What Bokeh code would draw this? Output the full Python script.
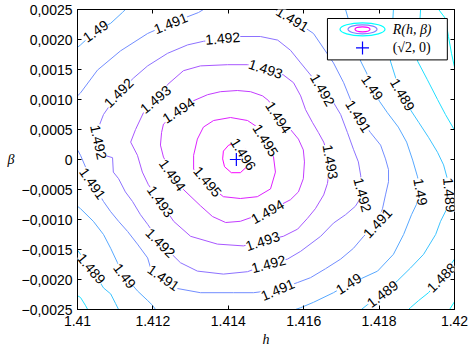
from bokeh.plotting import figure
from bokeh.models import ColumnDataSource, Range1d, FixedTicker, LinearAxis, LabelSet
from bokeh.core.properties import value
from bokeh.embed import file_html
from bokeh.resources import INLINE

# ---- contour levels and data range (MATLAB 'cool' colormap) ----
levels = [1.487, 1.488, 1.489, 1.490, 1.491, 1.492, 1.493, 1.494, 1.495, 1.496]
r_min, r_max = 1.4868, 1.4962

# ---- contour lines (h, beta) ----
c1496_h = [1.41419, 1.41401, 1.41387, 1.41385, 1.41390, 1.41408, 1.41432, 1.41451, 1.41451, 1.41435, 1.41419]
c1496_b = [0.00027, 0.00024, 0.00014, 0.00001, -0.00012, -0.00022, -0.00022, -0.00011, 0.00012, 0.00026, 0.00027]

c1495_h = [1.41406, 1.41451, 1.41477, 1.41499, 1.41520, 1.41525, 1.41512, 1.41477, 1.41432, 1.41387, 1.41371,
           1.41334, 1.41308, 1.41308, 1.41318, 1.41334, 1.41361, 1.41406]
c1495_b = [0.00070, 0.00065, 0.00054, 0.00029, 0.00004, -0.00021, -0.00049, -0.00062, -0.00065, -0.00062, -0.00054,
           -0.00037, -0.00016, 0.00007, 0.00034, 0.00054, 0.00065, 0.00070]

c1494_h = [1.41308, 1.41345, 1.41379, 1.41424, 1.41459, 1.41491, 1.41507, 1.41533, 1.41565, 1.41586, 1.41599, 1.41602,
           1.41599, 1.41586, 1.41565, 1.41504, 1.41432, 1.41393, 1.41358, 1.41326, 1.41281, 1.41252, 1.41228, 1.41220,
           1.41223, 1.41228, 1.41268, 1.41308]
c1494_b = [0.00098, 0.00108, 0.00113, 0.00115, 0.00113, 0.00106, 0.00098, 0.00070, 0.00050, 0.00034, 0.00016, -0.00004,
           -0.00032, -0.00054, -0.00067, -0.00087, -0.00103, -0.00105, -0.00095, -0.00077, -0.00050, -0.00024, 0.00004,
           0.00024, 0.00045, 0.00059, 0.00082, 0.00098]

c1493_h = [1.41239, 1.41281, 1.41326, 1.41398, 1.41451, 1.41499, 1.41546, 1.41573, 1.41592, 1.41605, 1.41623, 1.41639,
           1.41653, 1.41671, 1.41663, 1.41653, 1.41631, 1.41610, 1.41584, 1.41546, 1.41491, 1.41440, 1.41371, 1.41300,
           1.41255, 1.41220, 1.41188, 1.41172, 1.41159, 1.41141, 1.41154, 1.41175, 1.41207, 1.41239]
c1493_b = [0.00125, 0.00148, 0.00156, 0.00158, 0.00158, 0.00151, 0.00141, 0.00128, 0.00106, 0.00083, 0.00062, 0.00045,
           0.00029, -0.00004, -0.00040, -0.00059, -0.00082, -0.00098, -0.00116, -0.00128, -0.00136, -0.00144, -0.00141,
           -0.00128, -0.00103, -0.00070, -0.00042, -0.00021, 0.00007, 0.00029, 0.00050, 0.00078, 0.00100, 0.00125]

c1492_h = [1.41149, 1.41186, 1.41239, 1.41292, 1.41334, 1.41385, 1.41432, 1.41485, 1.41531, 1.41565, 1.41592, 1.41618,
           1.41650, 1.41679, 1.41698, 1.41716, 1.41732, 1.41745, 1.41751, 1.41756, 1.41737, 1.41711, 1.41679, 1.41645,
           1.41592, 1.41557, 1.41507, 1.41451, 1.41387, 1.41318, 1.41273, 1.41220, 1.41186, 1.41167, 1.41146, 1.41127,
           1.41109, 1.41095, 1.41093, 1.41072, 1.41056, 1.41056, 1.41069, 1.41109, 1.41149]
c1492_b = [0.00136, 0.00156, 0.00177, 0.00191, 0.00197, 0.00202, 0.00205, 0.00205, 0.00199, 0.00182, 0.00161, 0.00141,
           0.00116, 0.00095, 0.00075, 0.00045, 0.00017, -0.00004, -0.00026, -0.00059, -0.00078, -0.00092, -0.00106,
           -0.00128, -0.00153, -0.00166, -0.00174, -0.00187, -0.00191, -0.00186, -0.00172, -0.00139, -0.00108, -0.00092,
           -0.00070, -0.00054, -0.00032, -0.00021, 0.00003, 0.00007, 0.00029, 0.00054, 0.00075, 0.00111, 0.00136]

c1491a_h = [1.41000, 1.41008, 1.41053, 1.41114, 1.41186, 1.41247, 1.41321, 1.41334]
c1491a_b = [0.00106, 0.00111, 0.00149, 0.00181, 0.00210, 0.00227, 0.00245, 0.00250]
c1491b_h = [1.41525, 1.41570, 1.41626, 1.41679, 1.41706, 1.41724, 1.41745, 1.41777, 1.41804, 1.41817, 1.41825, 1.41825,
            1.41817, 1.41809, 1.41796, 1.41759, 1.41732, 1.41698, 1.41658, 1.41618, 1.41584, 1.41531, 1.41467, 1.41414,
            1.41326, 1.41265, 1.41228, 1.41194, 1.41186, 1.41159, 1.41133, 1.41109, 1.41088, 1.41069, 1.41040, 1.41008,
            1.41000]
c1491b_b = [0.00250, 0.00234, 0.00210, 0.00161, 0.00128, 0.00100, 0.00072, 0.00045, 0.00024, 0.00001, -0.00017, -0.00037,
            -0.00059, -0.00082, -0.00106, -0.00128, -0.00148, -0.00166, -0.00182, -0.00197, -0.00205, -0.00217, -0.00222,
            -0.00222, -0.00222, -0.00215, -0.00197, -0.00181, -0.00164, -0.00141, -0.00120, -0.00103, -0.00087, -0.00070,
            -0.00040, 0.00007, 0.00016]

c1490a_h = [1.41000, 1.41008, 1.41048, 1.41088, 1.41119, 1.41127]
c1490a_b = [0.00187, 0.00191, 0.00214, 0.00227, 0.00245, 0.00250]
c1490b_h = [1.41000, 1.41008, 1.41042, 1.41069, 1.41088, 1.41106, 1.41125, 1.41159, 1.41186, 1.41199, 1.41207]
c1490b_b = [-0.00078, -0.00082, -0.00103, -0.00125, -0.00148, -0.00172, -0.00194, -0.00219, -0.00235, -0.00243, -0.00250]
c1490c_h = [1.41711, 1.41751, 1.41767, 1.41782, 1.41801, 1.41822, 1.41851, 1.41873, 1.41889, 1.41902, 1.41910, 1.41899,
            1.41886, 1.41865, 1.41838, 1.41796, 1.41751, 1.41719, 1.41679, 1.41626, 1.41592, 1.41578]
c1490c_b = [0.00250, 0.00164, 0.00144, 0.00120, 0.00097, 0.00078, 0.00054, 0.00029, -0.00001, -0.00029, -0.00054, -0.00075,
            -0.00092, -0.00125, -0.00158, -0.00186, -0.00199, -0.00207, -0.00222, -0.00238, -0.00247, -0.00250]

c1489a_h = [1.41838, 1.41830, 1.41844, 1.41862, 1.41883, 1.41905, 1.41931, 1.41955, 1.41971, 1.41981, 1.41987, 1.41979,
            1.41963, 1.41950, 1.41918, 1.41883, 1.41849, 1.41809, 1.41769, 1.41753]
c1489a_b = [0.00250, 0.00164, 0.00136, 0.00108, 0.00083, 0.00062, 0.00037, 0.00012, -0.00009, -0.00032, -0.00059, -0.00083,
            -0.00103, -0.00125, -0.00158, -0.00181, -0.00202, -0.00224, -0.00242, -0.00250]
c1489b_h = [1.41000, 1.41008, 1.41037, 1.41069, 1.41088, 1.41101, 1.41109]
c1489b_b = [-0.00151, -0.00158, -0.00182, -0.00214, -0.00224, -0.00240, -0.00250]

c1488a_h = [1.41910, 1.41902, 1.41928, 1.41955, 1.41976, 1.42000]
c1488a_b = [0.00250, 0.00164, 0.00133, 0.00100, 0.00075, 0.00049]
c1488b_h = [1.42000, 1.41966, 1.41931, 1.41905, 1.41883, 1.41878]
c1488b_b = [-0.00166, -0.00197, -0.00222, -0.00235, -0.00247, -0.00250]
c1488c_h = [1.41000, 1.41008, 1.41021, 1.41027]
c1488c_b = [-0.00227, -0.00230, -0.00243, -0.00250]

c1487a_h = [1.41958, 1.41976, 1.41984, 1.41992, 1.42000]
c1487a_b = [0.00250, 0.00235, 0.00205, 0.00177, 0.00154]
c1487b_h = [1.42000, 1.41987]
c1487b_b = [-0.00237, -0.00250]

# ---- inline contour labels (level, h, beta, text angle in degrees) ----
lab_level = [1.496,
             1.495, 1.495,
             1.494, 1.494, 1.494, 1.494,
             1.493, 1.493, 1.493, 1.493, 1.493,
             1.492, 1.492, 1.492, 1.492, 1.492, 1.492, 1.492,
             1.491, 1.491, 1.491, 1.491, 1.491, 1.491, 1.491,
             1.490, 1.490, 1.490, 1.490, 1.490,
             1.489, 1.489, 1.489, 1.489,
             1.488]
lab_h = [1.41440,
         1.41499, 1.41345,
         1.41533, 1.41504, 1.41252, 1.41268,
         1.41499, 1.41671, 1.41491, 1.41220, 1.41207,
         1.41385, 1.41650, 1.41756, 1.41507, 1.41220, 1.41056, 1.41109,
         1.41247, 1.41570, 1.41745, 1.41796, 1.41531, 1.41228, 1.41040,
         1.41048, 1.41125, 1.41782, 1.41910, 1.41719,
         1.41862, 1.41987, 1.41809, 1.41037,
         1.41966]
lab_b = [0.00009,
         0.00032, -0.00037,
         0.00070, -0.00087, -0.00026, 0.00082,
         0.00151, -0.00004, -0.00136, -0.00070, 0.00100,
         0.00202, 0.00116, -0.00059, -0.00174, -0.00139, 0.00029, 0.00111,
         0.00227, 0.00234, 0.00072, -0.00106, -0.00217, -0.00197, -0.00040,
         0.00214, -0.00194, 0.00120, -0.00054, -0.00207,
         0.00108, -0.00059, -0.00224, -0.00182,
         -0.00197]
lab_angle = [-58,
             -58, -50,
             -57, 29, -55, 33,
             -18, -80, 18, -55, 40,
             5, -60, -75, 15, -45, -78, 45,
             22, -31, -58, 47, 23, -35, -55,
             35, -53, -55, -80, 32,
             -60, -85, 37, -50,
             45]

# ---- point (sqrt(2), 0) ----
opt_h = [2 ** 0.5]
opt_b = [0.0]

# ---- axes ----
x_ticks = [1.41, 1.412, 1.414, 1.416, 1.418, 1.42]
x_tick_labels = ["1.41", "1.412", "1.414", "1.416", "1.418", "1.42"]
y_ticks = [-0.0025, -0.002, -0.0015, -0.001, -0.0005, 0.0, 0.0005, 0.001, 0.0015, 0.002, 0.0025]
y_tick_labels = ["\u22120,0025", "\u22120,0020", "\u22120,0015", "\u22120,0010", "\u22120,0005", "0",
                 "0,0005", "0,0010", "0,0015", "0,0020", "0,0025"]

# legend placement (data coordinates of the box)
leg_left, leg_right, leg_top, leg_bottom = 1.41663, 1.41981, 0.00235, 0.00166
leg_icon_h, leg_text_h = 1.41756, 1.41836
leg_row1_b, leg_row2_b = 0.00217, 0.00186


def cool(level):
    t = (level - r_min) / (r_max - r_min)
    t = min(max(t, 0.0), 1.0)
    return "#{:02x}{:02x}{:02x}".format(int(round(255 * t)), int(round(255 * (1 - t))), 255)


segments = [
    (1.496, c1496_h, c1496_b), (1.495, c1495_h, c1495_b), (1.494, c1494_h, c1494_b),
    (1.493, c1493_h, c1493_b), (1.492, c1492_h, c1492_b),
    (1.491, c1491a_h, c1491a_b), (1.491, c1491b_h, c1491b_b),
    (1.490, c1490a_h, c1490a_b), (1.490, c1490b_h, c1490b_b), (1.490, c1490c_h, c1490c_b),
    (1.489, c1489a_h, c1489a_b), (1.489, c1489b_h, c1489b_b),
    (1.488, c1488a_h, c1488a_b), (1.488, c1488b_h, c1488b_b), (1.488, c1488c_h, c1488c_b),
    (1.487, c1487a_h, c1487a_b), (1.487, c1487b_h, c1487b_b),
]
src = ColumnDataSource(dict(xs=[s[1] for s in segments], ys=[s[2] for s in segments],
                            color=[cool(s[0]) for s in segments]))

p = figure(width=468, height=352, x_range=Range1d(1.41, 1.42), y_range=Range1d(-0.0025, 0.0025),
           output_backend="svg", toolbar_location=None,
           min_border_left=77, min_border_right=14, min_border_top=9, min_border_bottom=43)
p.background_fill_color = "white"
p.border_fill_color = "white"
p.outline_line_color = "black"
p.outline_line_width = 1
p.grid.visible = False

p.multi_line("xs", "ys", line_color="color", line_width=1, source=src)
p.scatter(x=opt_h, y=opt_b, marker="cross", size=13, color="#0000ff", line_width=1.2)

# legend
p.quad(left=[leg_left], right=[leg_right], top=[leg_top], bottom=[leg_bottom],
       fill_color="white", line_color="black", line_width=1)
p.ellipse(x=[leg_icon_h] * 3, y=[leg_row1_b] * 3, width=[45, 29, 15], height=[13, 9, 5],
          width_units="screen", height_units="screen", fill_color=None,
          line_color=[cool(r_min), cool(1.4915), cool(r_max)], line_width=1.2)
p.scatter(x=[leg_icon_h], y=[leg_row2_b], marker="cross", size=13, color="#0000ff", line_width=1.2)
p.text(x=[leg_text_h], y=[leg_row1_b], text=["R(h, \u03b2)"], text_font=value("Liberation Serif"),
       text_font_style="italic", text_font_size="14px", text_baseline="middle", text_align="left",
       text_color="black")
p.text(x=[leg_text_h], y=[leg_row2_b], text=["(\u221a2, 0)"], text_font=value("Liberation Serif"),
       text_font_size="14px", text_baseline="middle", text_align="left", text_color="black")

# contour labels
lab_src = ColumnDataSource(dict(x=lab_h, y=lab_b, text=["{:g}".format(v) for v in lab_level], angle=lab_angle))
p.add_layout(LabelSet(x="x", y="y", text="text", angle="angle", angle_units="deg", source=lab_src,
                      text_align="center", text_baseline="middle", text_font=value("Liberation Sans"),
                      text_font_size=value("14px"), text_color="black", background_fill_color="white"))

# axes
p.xaxis.ticker = FixedTicker(ticks=x_ticks)
p.xaxis.major_label_overrides = dict(zip(x_ticks, x_tick_labels))
p.yaxis.ticker = FixedTicker(ticks=y_ticks)
p.yaxis.major_label_overrides = dict(zip(y_ticks, y_tick_labels))
p.xaxis.axis_label = "h"
p.yaxis.axis_label = "\u03b2"
p.yaxis.axis_label_orientation = "horizontal"
for ax in (p.xaxis[0], p.yaxis[0]):
    ax.major_tick_in = 4
    ax.major_tick_out = 0
    ax.minor_tick_line_color = None
    ax.axis_line_color = "black"
    ax.major_tick_line_color = "black"
    ax.major_label_text_font = "Liberation Sans"
    ax.major_label_text_font_size = "14px"
    ax.major_label_text_color = "black"
    ax.axis_label_text_font = "Liberation Serif"
    ax.axis_label_text_font_style = "italic"
    ax.axis_label_text_font_size = "14px"
    ax.axis_label_text_color = "black"
p.xaxis.major_label_standoff = 6
p.xaxis.axis_label_standoff = 3
p.yaxis.major_label_standoff = 5
p.yaxis.axis_label_standoff = 4

top_ax = LinearAxis(ticker=FixedTicker(ticks=x_ticks), major_label_overrides={t: "" for t in x_ticks},
                    major_label_text_font_size="0px", major_label_standoff=0,
                    major_tick_in=4, major_tick_out=0, minor_tick_line_color=None)
right_ax = LinearAxis(ticker=FixedTicker(ticks=y_ticks), major_label_overrides={t: "" for t in y_ticks},
                      major_label_text_font_size="0px", major_label_standoff=0,
                      major_tick_in=4, major_tick_out=0, minor_tick_line_color=None)
p.add_layout(top_ax, "above")
p.add_layout(right_ax, "right")

open("out.html", "w").write(file_html(p, INLINE))
